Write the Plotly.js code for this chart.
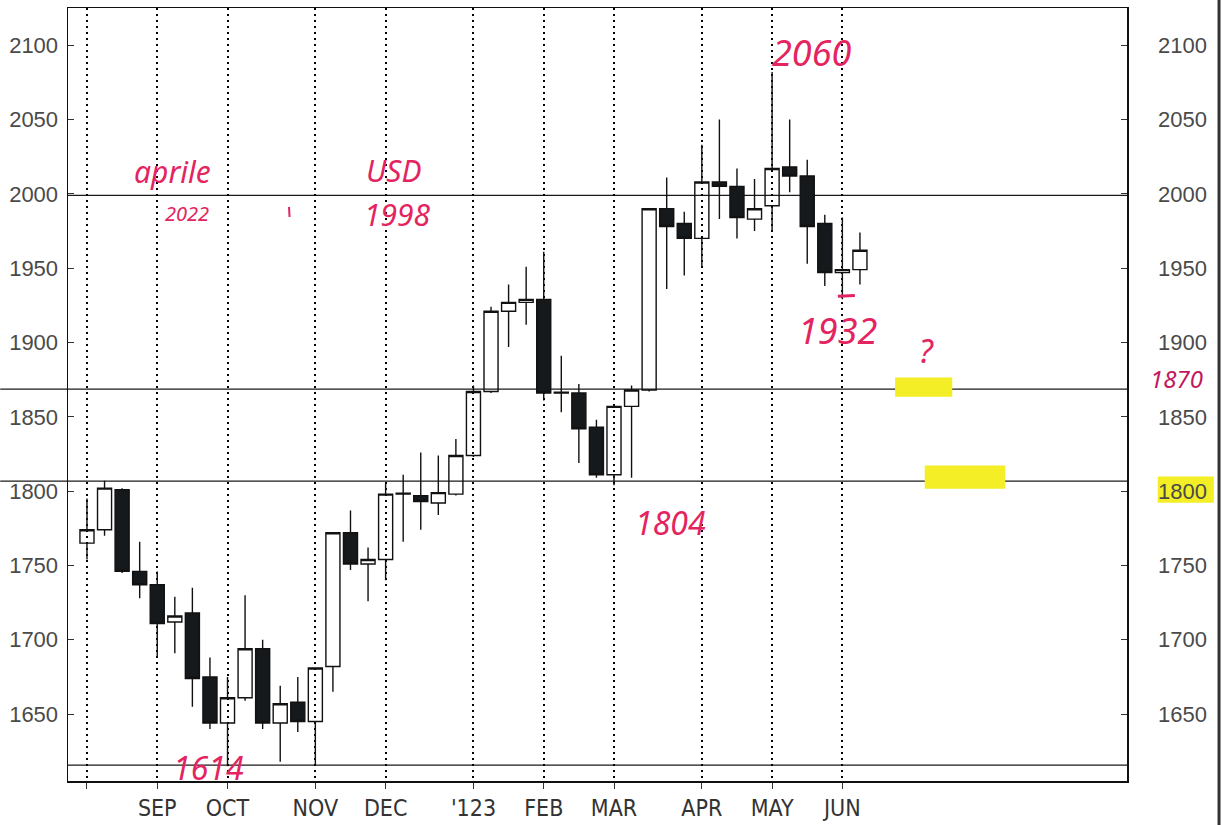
<!DOCTYPE html>
<html>
<head>
<meta charset="utf-8">
<script src="https://cdn.plot.ly/plotly-3.0.1.min.js"></script>
<style>html,body{margin:0;padding:0;background:#fff;}#chart{width:1224px;height:825px;}</style>
</head>
<body>
<div id="chart"></div>
<script>
// Weekly candles (week starting dates)
var weeks = [
  '2022-08-01','2022-08-08','2022-08-15','2022-08-22','2022-08-29','2022-09-05','2022-09-12','2022-09-19',
  '2022-09-26','2022-10-03','2022-10-10','2022-10-17','2022-10-24','2022-10-31','2022-11-07','2022-11-14',
  '2022-11-21','2022-11-28','2022-12-05','2022-12-12','2022-12-19','2022-12-26','2023-01-02','2023-01-09',
  '2023-01-16','2023-01-23','2023-01-30','2023-02-06','2023-02-13','2023-02-20','2023-02-27','2023-03-06',
  '2023-03-13','2023-03-20','2023-03-27','2023-04-03','2023-04-10','2023-04-17','2023-04-24','2023-05-01',
  '2023-05-08','2023-05-15','2023-05-22','2023-05-29','2023-06-05'
];
var openP  = [1765,1774,1801,1746,1737,1712,1718,1675,1644,1661,1694,1644,1658,1645,1682,1772,1751,1754,1798,1797,1792,1798,1824,1867,1921,1927,1929,1866,1866,1843,1811,1857,1868,1990,1980,1970,2008,2005,1983,1992,2018,2012,1980,1947,1949];
var highP  = [1795,1807,1802,1766,1746,1729,1735,1688,1675,1730,1700,1669,1675,1681,1772,1787,1762,1805,1811,1826,1824,1835,1871,1924,1939,1951,1961,1891,1872,1848,1858,1871,1990,2011,1988,2033,2050,2017,2010,2082,2050,2023,1986,1984,1974];
var lowP   = [1754,1770,1745,1728,1688,1691,1655,1640,1615,1659,1640,1618,1638,1616,1665,1747,1726,1740,1766,1774,1784,1797,1823,1866,1897,1912,1861,1853,1819,1809,1804,1809,1867,1936,1945,1951,1983,1970,1975,1975,2001,1953,1938,1929,1939];
var closeP = [1774,1802,1746,1737,1711,1716,1674,1644,1661,1694,1644,1657,1645,1681,1772,1751,1754,1798,1798.6,1793,1799,1824,1867,1921,1927,1929,1866,1866.6,1842,1811,1857,1868,1990,1978,1970,2008,2005,1984,1990,2017,2012,1978,1947,1949,1962];

// Month ticks (first candle of each month) and labels
var monthTicks  = ['2022-08-01','2022-08-29','2022-09-26','2022-10-31','2022-11-28','2023-01-02','2023-01-30','2023-02-27','2023-04-03','2023-05-01','2023-05-29'];
var monthLabels = ['','SEP','OCT','NOV','DEC',"'123",'FEB','MAR','APR','MAY','JUN'];
var priceTicks  = [1650,1700,1750,1800,1850,1900,1950,2000,2050,2100];

// Hand-drawn horizontal levels
var levelValues = [1999, 1868.6, 1806.7, 1615.7];
var levelStarts = [0, -0.064, -0.064, 0]; // paper x where each pen line begins

var trace = {
  type: 'candlestick',
  x: weeks, open: openP, high: highP, low: lowP, close: closeP,
  xaxis: 'x', yaxis: 'y',
  whiskerwidth: 0,
  increasing: {line: {color: '#111', width: 1.4}, fillcolor: 'rgba(255,255,255,0)'},
  decreasing: {line: {color: '#111', width: 1.4}, fillcolor: '#15191c'},
  hoverinfo: 'x+y',
  showlegend: false
};
// invisible companion so that the right-hand price axis is drawn
var rightAxisTrace = {
  type: 'scatter', x: weeks, y: closeP, xaxis: 'x', yaxis: 'y2',
  mode: 'lines', line: {width: 0, color: 'rgba(0,0,0,0)'}, opacity: 0,
  hoverinfo: 'skip', showlegend: false
};

var shapes = [];
levelValues.forEach(function(v, i){
  shapes.push({type:'line', xref:'paper', yref:'y', x0: levelStarts[i], x1: 1, y0: v, y1: v,
    line:{color:'#1a1a1a', width:1.3}, layer:'below'});
});
// yellow highlighter marks
var hl = '#f3ee26';
shapes.push({type:'rect', xref:'paper', yref:'paper', x0:0.781, x1:0.835, y0:0.497, y1:0.522, fillcolor:hl, line:{width:0}, layer:'below'});
shapes.push({type:'rect', xref:'paper', yref:'paper', x0:0.809, x1:0.885, y0:0.378, y1:0.408, fillcolor:hl, line:{width:0}, layer:'below'});
shapes.push({type:'rect', xref:'paper', yref:'paper', x0:1.029, x1:1.082, y0:0.360, y1:0.394, fillcolor:hl, line:{width:0}, layer:'below'});
// red pen dash under the low candle
shapes.push({type:'line', xref:'paper', yref:'paper', x0:0.727, x1:0.743, y0:0.627, y1:0.628, line:{color:'#e3245f', width:3}});
// small red pen stroke between "2022" and "1998"
shapes.push({type:'line', xref:'paper', yref:'paper', x0:0.2087, x1:0.2092, y0:0.7426, y1:0.7296, line:{color:'#e3245f', width:2}});
// scan page edge on the right
shapes.push({type:'line', xref:'paper', yref:'paper', x0:1.0869, x1:1.0869, y0:-0.06, y1:1.02, line:{color:'#333', width:3}});

var red = '#e3245f';
var hand = 'Noto Sans, DejaVu Sans, sans-serif';
function note(text, x, y, size, color, yanchor){
  return {text: text, xref:'paper', yref:'paper', x:x, y:y, showarrow:false,
    font:{family: hand, size:size, color: color || red, style:'italic'}, xanchor:'center', yanchor: yanchor || 'middle'};
}
var annotations = [
  note('aprile', 0.099, 0.788, 30),
  note('2022', 0.112, 0.734, 20),
  note('USD', 0.307, 0.790, 30),
  note('1998', 0.311, 0.733, 30),
  note('2060', 0.703, 0.943, 36),
  note('1932', 0.727, 0.583, 36),
  note('?', 0.811, 0.557, 32),
  note('1804', 0.569, 0.335, 32),
  note('1614', 0.133, -0.013, 32, red, 'bottom'),
  note('1870', 1.047, 0.521, 24, '#c2185b')
];

var axisFont = {family: 'Liberation Sans, Arial, sans-serif', size: 22, color: '#4a4a4a'};

var layout = {
  width: 1224, height: 825,
  margin: {l: 68, r: 97, t: 8, b: 44},
  paper_bgcolor: '#fff', plot_bgcolor: '#fff',
  showlegend: false,
  boxgap: 0.2, boxgroupgap: 0,
  xaxis: {
    type: 'date',
    range: ['2022-07-24 10:30', '2023-09-19 10:00'],
    tickmode: 'array', tickvals: monthTicks, ticktext: monthLabels,
    showgrid: true, gridcolor: '#000', gridwidth: 2, griddash: '2px,4px',
    ticks: 'outside', ticklen: 6, tickcolor: '#333', tickwidth: 1,
    showline: true, linecolor: '#111', linewidth: 1.5, mirror: true,
    zeroline: false,
    tickfont: {family: 'Liberation Sans Narrow, DejaVu Sans Condensed, sans-serif', size: 23, color: '#333'},
    rangeslider: {visible: false},
    fixedrange: true
  },
  yaxis: {
    range: [1605, 2125],
    tickmode: 'array', tickvals: priceTicks,
    ticks: 'inside', ticklen: 6, tickcolor: '#333',
    showgrid: false, zeroline: false,
    showline: true, linecolor: '#111', linewidth: 1.5, mirror: true,
    tickfont: axisFont, ticklabelstandoff: 4,
    fixedrange: true
  },
  yaxis2: {
    overlaying: 'y', side: 'right', anchor: 'x',
    range: [1605, 2125],
    tickmode: 'array', tickvals: priceTicks,
    ticks: 'inside', ticklen: 6, tickcolor: '#333',
    showgrid: false, zeroline: false, showline: false,
    tickfont: axisFont, ticklabelstandoff: 30,
    fixedrange: true
  },
  shapes: shapes,
  annotations: annotations
};

Plotly.newPlot('chart', [trace, rightAxisTrace], layout, {displayModeBar: false, staticPlot: true});
</script>
</body>
</html>
